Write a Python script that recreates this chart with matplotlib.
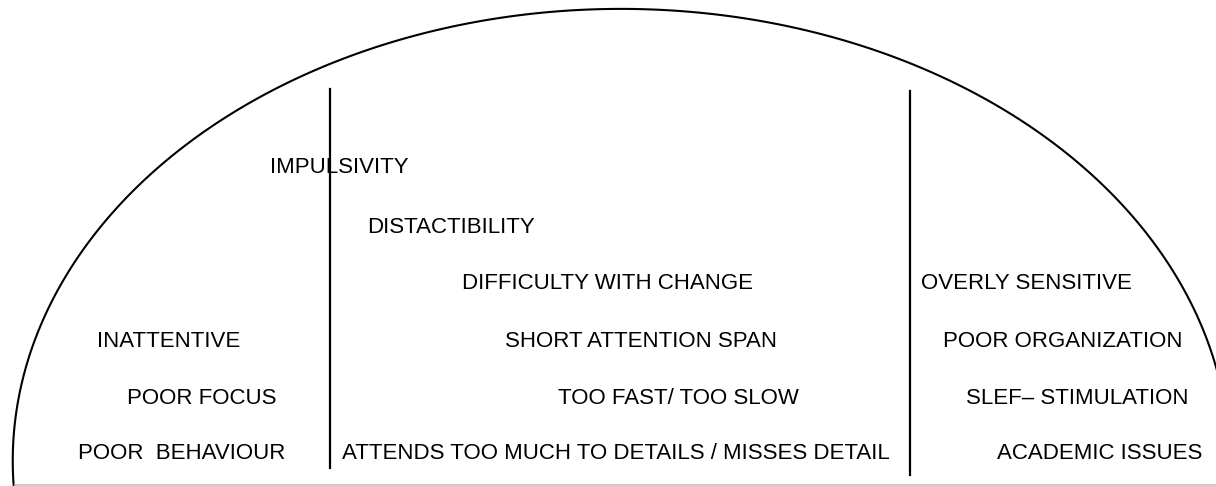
import numpy as np
import matplotlib
matplotlib.use('Agg')
import matplotlib.pyplot as plt
from matplotlib import font_manager

# points (image pixels, y down)
arc_x = [14, 18, 43, 60, 87, 123, 160, 220, 300, 380, 480, 620, 700, 800, 900, 1000, 1063, 1117, 1150, 1183, 1207, 1215]
arc_y = [477, 400, 318, 283, 247, 203, 163, 120, 80, 45, 22, 8, 13, 28, 58, 110, 150, 200, 237, 290, 337, 363]

# the two dividers: x, top, bottom
divider_x = [330, 910]
divider_top = [89, 91]
divider_bottom = [468, 475]

labels = ['IMPULSIVITY', 'DISTACTIBILITY', 'DIFFICULTY WITH CHANGE', 'OVERLY SENSITIVE',
          'INATTENTIVE', 'SHORT ATTENTION SPAN', 'POOR ORGANIZATION',
          'POOR FOCUS', 'TOO FAST/ TOO SLOW', 'SLEF\u2013 STIMULATION',
          'POOR  BEHAVIOUR', 'ATTENDS TOO MUCH TO DETAILS / MISSES DETAIL', 'ACADEMIC ISSUES']
label_x = [270, 367, 462, 921, 97, 505, 943, 127, 558, 966, 78, 342, 997]
label_y = [167, 227, 283, 283, 341, 341, 341, 398, 398, 398, 453, 453, 453]

W, H = 1216, 486

names = {f.name for f in font_manager.fontManager.ttflist}
if 'Liberation Sans Narrow' in names:
    fam, size = 'Liberation Sans Narrow', 19
else:
    fam, size = 'Liberation Sans', 16

fig = plt.figure(figsize=(W / 100, H / 100), dpi=100)
ax = fig.add_axes([0, 0, 1, 1])
ax.set_xlim(0, W)
ax.set_ylim(H, 0)
ax.axis('off')

# fit a conic through the outline points and draw its zero contour
px = np.array(arc_x, dtype=float) / W
py = np.array(arc_y, dtype=float) / H
A = np.column_stack([px**2, px * py, py**2, px, py])
coef, *_ = np.linalg.lstsq(A, np.ones_like(px), rcond=None)
gx, gy = np.meshgrid(np.linspace(-0.05, 1.05, 1400), np.linspace(-0.05, 1.05, 700))
F = coef[0]*gx**2 + coef[1]*gx*gy + coef[2]*gy**2 + coef[3]*gx + coef[4]*gy - 1
ax.contour(gx * W, gy * H, F, levels=[0], colors='black', linewidths=1.5)

ax.plot([15, W], [484.5, 484.5], color='#c0c0c0', lw=1.2)

for x, t, b in zip(divider_x, divider_top, divider_bottom):
    ax.plot([x, x], [t, b], color='black', lw=1.6)

for s, x, y in zip(labels, label_x, label_y):
    ax.text(x, y, s, ha='left', va='center', fontsize=size, family=fam, color='black')

fig.savefig('out.png', dpi=100)
